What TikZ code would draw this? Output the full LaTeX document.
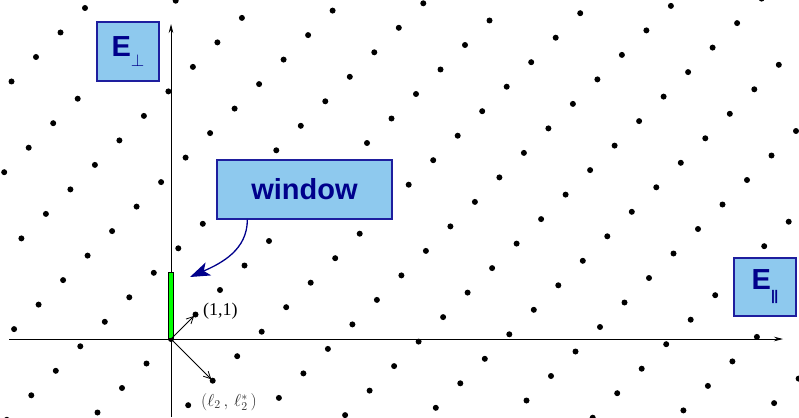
\documentclass[tikz,border=0pt]{standalone}
\usepackage{fontspec}
\setmainfont{Liberation Serif}
\newfontfamily\boxfont{Liberation Sans}
\usetikzlibrary{positioning, arrows.meta, calc}
\definecolor{boxblue}{HTML}{8EC9EE}
\definecolor{boxline}{HTML}{1E1E9E}
\definecolor{boxtext}{HTML}{00008B}
\definecolor{labelgray}{HTML}{2A2A2A}

\begin{document}
\begin{tikzpicture}[x=1pt, y=-1pt,
    labelbox/.style={draw=boxline, fill=boxblue, line width=1.3pt, inner sep=0pt,
      text=boxtext, font=\boxfont\bfseries\fontsize{29}{34}\selectfont},
    vec/.style={-{Straight Barb[length=7pt, width=7pt]}, line width=0.8pt, shorten >=2pt},
    axis/.style={-{Stealth[length=9pt, width=4.5pt]}, line width=0.8pt}]
  \useasboundingbox (0,0) rectangle (799,417);
  % lattice points
  \begin{scope}
    \clip (0,0) rectangle (799,417);
    \foreach \m in {-6,...,20}
      \foreach \n in {-7,...,9}
        \fill ({171+24.5*(\m)+41.7*(\n)},{339-24.5*(\m)+41.7*(\n)}) circle (3pt);
  \end{scope}
  % axes
  \coordinate (O) at (171,339);
  \coordinate (xl) at (9,339);
  \coordinate (xr) at (783,339);
  \coordinate (yb) at (171,417);
  \coordinate (yt) at (171,24);
  \draw[axis] (xl) -- (xr);
  \draw[axis] (yb) -- (yt);
  % window in E_perp
  \node[draw, fill=green, line width=0.6pt, minimum width=5pt, minimum height=66pt,
        inner sep=0pt, anchor=south] (winbar) at (O) {};
  % basis vectors
  \coordinate (p11) at (195.5,314.5);
  \coordinate (pl2) at (212.7,380.7);
  \draw[vec] (O) -- (p11);
  \draw[vec] (O) -- (pl2);
  \node[anchor=west, inner sep=0pt, font=\fontsize{18}{20}\selectfont] (lab11) at (203,311.5) {(1,1)};
  \node[inner sep=0pt, text=labelgray, font=\fontsize{18}{20}\selectfont] (labl2) at (229,402)
    {$(\ell_2\,,\,\ell_2^{*}\,)$};
  % labels
  \node[labelbox, minimum width=62pt, minimum height=59pt] (Eperp) at (128,51.5)
    {E\raisebox{-10pt}{\fontsize{16}{16}\selectfont$\perp$}};
  \node[labelbox, minimum width=175pt, minimum height=59pt] (window) at (304.5,189.5) {window};
  \node[labelbox, minimum width=62pt, minimum height=58pt] (Epar) at (765,287)
    {E\raisebox{-11pt}{\fontsize{14}{14}\selectfont|\kern-0.5pt|}};
  \coordinate (wintip) at (190,277);
  \draw[boxtext, line width=1.3pt, -{Stealth[length=20pt, width=14pt, inset=5pt]}]
    ([xshift=31pt]window.south west) .. controls +(0,30) and +(32,-14) .. (wintip);
\end{tikzpicture}
\end{document}
